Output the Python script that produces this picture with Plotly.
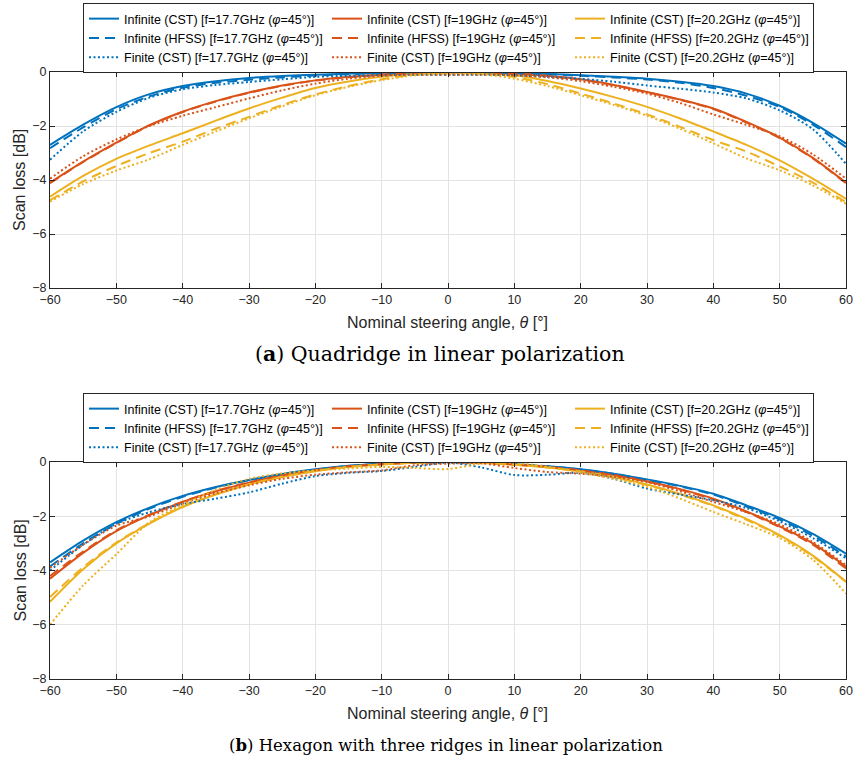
import plotly.graph_objects as go

theta = [-60, -55, -50, -45, -40, -35, -30, -25, -20, -15, -10, -5, 0,
         5, 10, 15, 20, 25, 30, 35, 40, 45, 50, 55, 60]

# ---- Panel (a): Quadridge ----
a_cst_177 = [-2.70, -1.95, -1.30, -0.82, -0.52, -0.34, -0.22, -0.15, -0.10, -0.06, -0.03, -0.01, 0.00,
             -0.01, -0.03, -0.07, -0.12, -0.18, -0.25, -0.36, -0.52, -0.80, -1.25, -1.88, -2.65]
a_hfss_177 = [-2.82, -2.05, -1.38, -0.90, -0.58, -0.40, -0.29, -0.20, -0.13, -0.08, -0.04, -0.01, 0.00,
              -0.01, -0.04, -0.08, -0.14, -0.20, -0.28, -0.40, -0.59, -0.88, -1.30, -1.95, -2.78]
a_fin_177 = [-3.25, -2.20, -1.48, -0.95, -0.64, -0.48, -0.37, -0.27, -0.18, -0.14, -0.12, -0.10, -0.10,
             -0.10, -0.12, -0.18, -0.25, -0.36, -0.50, -0.62, -0.76, -0.98, -1.42, -2.12, -3.40]
a_cst_19 = [-4.10, -3.32, -2.62, -1.97, -1.47, -1.08, -0.76, -0.50, -0.31, -0.18, -0.10, -0.04, -0.02,
            -0.03, -0.06, -0.14, -0.27, -0.48, -0.74, -1.02, -1.35, -1.85, -2.43, -3.18, -4.10]
a_hfss_19 = [-4.12, -3.33, -2.63, -1.98, -1.48, -1.09, -0.77, -0.51, -0.32, -0.19, -0.10, -0.04, -0.02,
             -0.03, -0.07, -0.15, -0.28, -0.49, -0.75, -1.03, -1.37, -1.87, -2.45, -3.20, -4.12]
a_fin_19 = [-3.95, -3.12, -2.50, -2.00, -1.62, -1.30, -0.98, -0.68, -0.43, -0.25, -0.14, -0.10, -0.10,
            -0.10, -0.12, -0.20, -0.34, -0.55, -0.80, -1.15, -1.57, -1.96, -2.38, -3.05, -3.95]
a_cst_202 = [-4.62, -3.85, -3.22, -2.72, -2.27, -1.80, -1.35, -0.95, -0.59, -0.35, -0.18, -0.06, 0.00,
             -0.04, -0.12, -0.33, -0.61, -0.93, -1.29, -1.72, -2.20, -2.70, -3.27, -3.95, -4.70]
a_hfss_202 = [-4.75, -4.05, -3.48, -3.00, -2.58, -2.10, -1.66, -1.22, -0.83, -0.52, -0.27, -0.10, -0.03,
              -0.06, -0.18, -0.45, -0.80, -1.17, -1.57, -2.03, -2.52, -2.95, -3.50, -4.10, -4.82]
a_fin_202 = [-4.80, -4.15, -3.65, -3.23, -2.70, -2.20, -1.72, -1.27, -0.86, -0.55, -0.30, -0.12, -0.05,
             -0.08, -0.25, -0.52, -0.86, -1.22, -1.62, -2.10, -2.64, -3.20, -3.64, -4.20, -4.88]

# ---- Panel (b): Hexagon with three ridges ----
b_cst_177 = [-3.70, -2.90, -2.22, -1.68, -1.25, -0.92, -0.66, -0.44, -0.27, -0.14, -0.06, -0.02, 0.00,
             -0.02, -0.08, -0.16, -0.27, -0.43, -0.64, -0.88, -1.17, -1.60, -2.06, -2.65, -3.38]
b_hfss_177 = [-3.85, -3.00, -2.28, -1.72, -1.28, -0.94, -0.67, -0.45, -0.28, -0.15, -0.06, -0.02, 0.00,
              -0.02, -0.08, -0.16, -0.28, -0.44, -0.66, -0.90, -1.20, -1.64, -2.12, -2.72, -3.48]
b_fin_177 = [-4.00, -3.05, -2.28, -1.85, -1.55, -1.35, -1.12, -0.80, -0.52, -0.40, -0.33, -0.18, -0.02,
             -0.20, -0.48, -0.47, -0.40, -0.62, -0.98, -1.20, -1.41, -1.70, -2.19, -2.80, -3.55]
b_cst_19 = [-4.30, -3.35, -2.55, -1.96, -1.47, -1.08, -0.76, -0.50, -0.31, -0.17, -0.08, -0.02, 0.00,
            -0.02, -0.09, -0.18, -0.31, -0.48, -0.71, -1.00, -1.35, -1.82, -2.37, -3.00, -3.86]
b_hfss_19 = [-4.20, -3.30, -2.52, -1.94, -1.46, -1.07, -0.75, -0.49, -0.30, -0.16, -0.08, -0.02, 0.00,
             -0.02, -0.09, -0.18, -0.31, -0.49, -0.72, -1.02, -1.38, -1.85, -2.40, -3.05, -3.92]
b_fin_19 = [-3.90, -3.05, -2.35, -2.00, -1.53, -1.15, -0.86, -0.62, -0.47, -0.38, -0.31, -0.12, -0.06,
            -0.05, -0.22, -0.37, -0.43, -0.55, -0.74, -1.08, -1.47, -1.85, -2.30, -2.95, -3.80]
b_cst_202 = [-5.15, -3.95, -3.00, -2.27, -1.66, -1.20, -0.83, -0.55, -0.34, -0.18, -0.09, -0.03, 0.00,
             -0.03, -0.10, -0.20, -0.34, -0.55, -0.83, -1.18, -1.60, -2.10, -2.70, -3.45, -4.41]
b_hfss_202 = [-4.98, -3.88, -2.97, -2.25, -1.65, -1.19, -0.82, -0.54, -0.33, -0.18, -0.09, -0.03, 0.00,
              -0.03, -0.10, -0.20, -0.35, -0.56, -0.85, -1.20, -1.62, -2.13, -2.72, -3.48, -4.42]
b_fin_202 = [-6.00, -4.55, -3.40, -2.22, -1.58, -1.02, -0.62, -0.42, -0.31, -0.24, -0.18, -0.22, -0.26,
             -0.06, -0.03, -0.18, -0.39, -0.62, -0.92, -1.35, -1.84, -2.30, -2.80, -3.60, -4.85]

x_ticks = [-60, -50, -40, -30, -20, -10, 0, 10, 20, 30, 40, 50, 60]
y_ticks = [-8, -6, -4, -2, 0]
freqs = ["17.7", "19", "20.2"]
colors = ["#0072BD", "#D95319", "#EDB120"]
kinds = ["Infinite (CST)", "Infinite (HFSS)", "Finite (CST)"]
dashes = ["solid", "10px,6px", "2px,2.5px"]

panel_a = [[a_cst_177, a_cst_19, a_cst_202],
           [a_hfss_177, a_hfss_19, a_hfss_202],
           [a_fin_177, a_fin_19, a_fin_202]]
panel_b = [[b_cst_177, b_cst_19, b_cst_202],
           [b_hfss_177, b_hfss_19, b_hfss_202],
           [b_fin_177, b_fin_19, b_fin_202]]

fig = go.Figure()
for panel, xa, ya, leg in [(panel_a, "x", "y", "legend"), (panel_b, "x2", "y2", "legend2")]:
    for k in range(3):
        for f in range(3):
            fig.add_trace(go.Scatter(
                x=theta, y=panel[k][f], mode="lines",
                line=dict(color=colors[f], width=2, dash=dashes[k], shape="spline", smoothing=0.8),
                name=f"{kinds[k]} [f={freqs[f]}GHz (<i>φ</i>=45°)]",
                xaxis=xa, yaxis=ya, legend=leg))

W, H = 859, 760
px0, px1 = 50, 846
a_top, a_bot = 72, 288
b_top, b_bot = 462, 679

def xdom():
    return [px0 / W, px1 / W]

def ydom(top, bot):
    return [1 - bot / H, 1 - top / H]

axis_common = dict(showline=True, linecolor="#262626", linewidth=1, mirror="ticks",
                   ticks="inside", ticklen=5, tickcolor="#262626", tickwidth=1,
                   showgrid=True, gridcolor="#e3e3e3", gridwidth=1, zeroline=False, automargin=False,
                   tickfont=dict(family="Liberation Sans, Arial, sans-serif", size=12.5, color="#262626"))

leg_common = dict(orientation="h", xref="container", yref="container", xanchor="left", yanchor="top",
                  entrywidth=198, entrywidthmode="pixels",
                  font=dict(family="Liberation Sans, Arial, sans-serif", size=12.5, color="#000000"),
                  bgcolor="white", bordercolor="#262626", borderwidth=1, itemwidth=30, traceorder="normal")

fig.update_layout(
    width=W, height=H, margin=dict(l=0, r=0, t=0, b=0, autoexpand=False),
    paper_bgcolor="white", plot_bgcolor="white",
    font=dict(family="Liberation Sans, Arial, sans-serif", color="#262626"),
    xaxis=dict(domain=xdom(), anchor="y", range=[-60, 60], tickvals=x_ticks, **axis_common),
    yaxis=dict(domain=ydom(a_top, a_bot), anchor="x", range=[-8, 0], tickvals=y_ticks, **axis_common),
    xaxis2=dict(domain=xdom(), anchor="y2", range=[-60, 60], tickvals=x_ticks, **axis_common),
    yaxis2=dict(domain=ydom(b_top, b_bot), anchor="x2", range=[-8, 0], tickvals=y_ticks, **axis_common),
    legend=dict(x=83 / W, y=1 - 3 / H, **leg_common),
    legend2=dict(x=83 / W, y=1 - 393 / H, **leg_common),
)

label_font = dict(family="Liberation Sans, Arial, sans-serif", size=16, color="#262626")
anns = []
for top, bot, cap, cx, cs in [(a_top, a_bot, "(<b>a</b>) Quadridge in linear polarization", 440, 20.5),
                              (b_top, b_bot, "(<b>b</b>) Hexagon with three ridges in linear polarization", 446, 16.5)]:
    anns.append(dict(text="Scan loss [dB]", x=20 / W, y=1 - ((top + bot) / 2) / H, xref="paper", yref="paper",
                     textangle=-90, showarrow=False, font=label_font, xanchor="center", yanchor="middle"))
    anns.append(dict(text="Nominal steering angle, <i>θ</i> [°]", x=448 / W, y=1 - (bot + 34) / H,
                     xref="paper", yref="paper", showarrow=False, font=label_font,
                     xanchor="center", yanchor="middle"))
    anns.append(dict(text=cap, x=cx / W, y=1 - (bot + 66) / H, xref="paper", yref="paper",
                     showarrow=False, font=dict(family="DejaVu Serif, serif", size=cs, color="#000000"),
                     xanchor="center", yanchor="middle"))
fig.update_layout(annotations=anns)

fig.write_html("out.html", config={"displayModeBar": False},
               post_script="document.body.style.margin='0px';document.body.style.padding='0px';")
